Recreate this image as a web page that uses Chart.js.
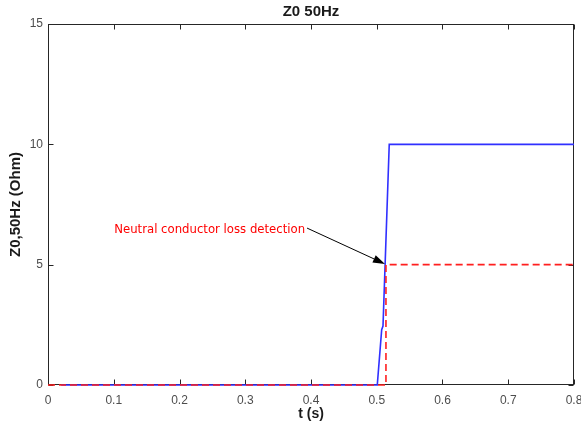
<!DOCTYPE html>
<html>
<head>
<meta charset="utf-8">
<script src="https://cdn.jsdelivr.net/npm/chart.js@4.4.1/dist/chart.umd.min.js"></script>
<style>
    html, body { margin: 0; padding: 0; background: #fff; }
    #wrap { width: 581px; height: 430px; }
</style>
</head>
<body>
<div id="wrap"><canvas id="chart" width="581" height="430"></canvas></div>
<script>
// Values
const tMeasured = [0.02, 0.5008, 0.5075, 0.5095, 0.519, 0.8];
const zMeasured = [0, 0, 2.3, 2.45, 10, 10];
const tDetect = [0, 0.514, 0.514, 0.8];
const zDetect = [0, 0, 5, 5];
const xTicks = [0, 0.1, 0.2, 0.3, 0.4, 0.5, 0.6, 0.7, 0.8];
const yTicks = [0, 5, 10, 15];

const titleText = 'Z0 50Hz';
const xLabel = 't (s)';
const yLabel = 'Z0,50Hz (Ohm)';
const noteText = 'Neutral conductor loss detection';
// annotation anchor (text end) and arrow ends, in data units
const noteAt = { t: 0.391, z: 6.33 };
const arrowFrom = { t: 0.394, z: 6.52 };
const arrowTo = { t: 0.5125, z: 5.03 };

const toPoints = (xs, ys) => xs.map((v, i) => ({ x: v, y: ys[i] }));
const tickFont = { family: 'Liberation Sans, Arial, sans-serif', size: 12 };

// Frame, inward ticks, titles and the arrow note
const decor = {
    id: 'decor',
    beforeDatasetsDraw(chart) {
        const { ctx, chartArea: a, scales: { x, y } } = chart;
        const L = Math.round(a.left) + 0.5, R = Math.round(a.right) - 0.5;
        const T = Math.round(a.top) + 0.5, B = Math.round(a.bottom) - 0.5;
        ctx.save();
        ctx.strokeStyle = '#262626';
        ctx.lineWidth = 1;
        ctx.strokeRect(L, T, R - L, B - T);
        ctx.beginPath();
        xTicks.forEach(v => {
            const px = Math.round(x.getPixelForValue(v)) + 0.5;
            ctx.moveTo(px, B); ctx.lineTo(px, B - 5);
            ctx.moveTo(px, T); ctx.lineTo(px, T + 5);
        });
        yTicks.forEach(v => {
            const py = Math.round(y.getPixelForValue(v)) + 0.5;
            ctx.moveTo(L, py); ctx.lineTo(L + 5, py);
            ctx.moveTo(R, py); ctx.lineTo(R - 5, py);
        });
        ctx.stroke();
        ctx.restore();
    },
    afterDraw(chart) {
        const { ctx, chartArea: a, scales: { x, y } } = chart;
        const cx = (a.left + a.right) / 2;
        const cy = (a.top + a.bottom) / 2;
        ctx.save();
        ctx.fillStyle = '#1a1a1a';
        ctx.textAlign = 'center';
        ctx.textBaseline = 'middle';
        ctx.font = 'bold 15px Liberation Sans, Arial, sans-serif';
        ctx.fillText(titleText, cx, 12);
        ctx.font = 'bold 14px Liberation Sans, Arial, sans-serif';
        ctx.fillText(xLabel, cx, 414);
        ctx.save();
        ctx.translate(16, cy);
        ctx.rotate(-Math.PI / 2);
        ctx.font = 'bold 15px Liberation Sans, Arial, sans-serif';
        ctx.fillText(yLabel, 0, 0);
        ctx.restore();

        // note text
        ctx.fillStyle = '#ff0000';
        ctx.font = '11.7px DejaVu Sans, sans-serif';
        ctx.textAlign = 'right';
        ctx.textBaseline = 'alphabetic';
        ctx.fillText(noteText, x.getPixelForValue(noteAt.t), y.getPixelForValue(noteAt.z));

        // arrow
        const x0 = x.getPixelForValue(arrowFrom.t), y0 = y.getPixelForValue(arrowFrom.z);
        const x1 = x.getPixelForValue(arrowTo.t), y1 = y.getPixelForValue(arrowTo.z);
        const ang = Math.atan2(y1 - y0, x1 - x0);
        const headLen = 12, headW = 4;
        const bx = x1 - headLen * Math.cos(ang), by = y1 - headLen * Math.sin(ang);
        ctx.strokeStyle = '#000';
        ctx.fillStyle = '#000';
        ctx.lineWidth = 1;
        ctx.beginPath();
        ctx.moveTo(x0, y0);
        ctx.lineTo(bx, by);
        ctx.stroke();
        ctx.beginPath();
        ctx.moveTo(x1, y1);
        ctx.lineTo(bx + headW * Math.sin(ang), by - headW * Math.cos(ang));
        ctx.lineTo(bx - headW * Math.sin(ang), by + headW * Math.cos(ang));
        ctx.closePath();
        ctx.fill();
        ctx.restore();
    }
};

new Chart(document.getElementById('chart'), {
    type: 'scatter',
    data: {
        datasets: [{
            label: 'Detection',
            data: toPoints(tDetect, zDetect),
            showLine: true,
            borderColor: '#ff1f1f',
            borderWidth: 1.6,
            borderDash: [7, 4],
            pointRadius: 0,
            fill: false,
            clip: false,
            order: 0
        }, {
            label: 'Z0 50Hz',
            data: toPoints(tMeasured, zMeasured),
            showLine: true,
            borderColor: '#3030ff',
            borderWidth: 1.6,
            pointRadius: 0,
            fill: false,
            clip: false,
            order: 1
        }]
    },
    options: {
        responsive: false,
        animation: false,
        layout: { padding: { top: 24, right: 7, left: 0, bottom: 0 } },
        plugins: {
            legend: { display: false },
            title: { display: false },
            tooltip: { enabled: false }
        },
        scales: {
            x: {
                type: 'linear',
                min: 0,
                max: 0.8,
                afterBuildTicks: s => { s.ticks = xTicks.map(v => ({ value: v })); },
                afterFit: s => { s.height = 45; s.paddingLeft = 0; s.paddingRight = 0; },
                grid: { display: false, drawTicks: false },
                border: { display: false },
                ticks: {
                    padding: 8,
                    maxRotation: 0,
                    color: '#4d4d4d',
                    font: tickFont,
                    callback: v => String(v)
                }
            },
            y: {
                type: 'linear',
                min: 0,
                max: 15,
                afterBuildTicks: s => { s.ticks = yTicks.map(v => ({ value: v })); },
                afterFit: s => { s.width = 48; s.paddingTop = 0; s.paddingBottom = 0; },
                grid: { display: false, drawTicks: false },
                border: { display: false },
                ticks: {
                    padding: 5,
                    color: '#4d4d4d',
                    font: tickFont,
                    callback: v => String(v)
                }
            }
        }
    },
    plugins: [decor]
});
</script>
</body>
</html>
